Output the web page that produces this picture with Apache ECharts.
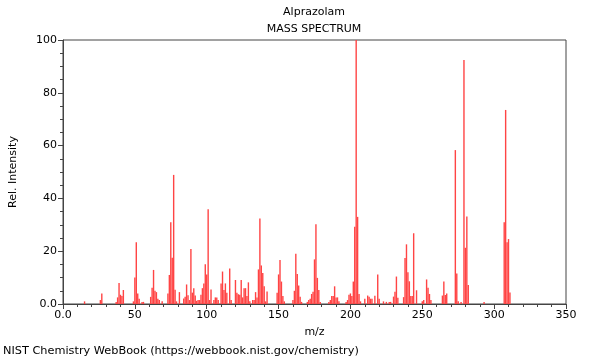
<!DOCTYPE html>
<html>
<head>
<meta charset="utf-8">
<script src="https://cdn.jsdelivr.net/npm/echarts@6/dist/echarts.min.js"></script>
<style>html,body{margin:0;padding:0;background:#fff}#c{width:600px;height:360px}</style>
</head>
<body>
<div id="c"></div>
<script>
// m/z values and relative intensities
const mz = [15,26,27,37,38,39,40,41,42,49,50,51,52,53,55,56,61,62,63,64,65,66,67,69,
  73,74,75,76,77,78,79,81,84,85,86,87,88,89,90,91,92,93,94,95,96,97,98,99,100,101,102,103,
  105,106,107,108,110,111,112,113,114,116,117,120,121,122,123,124,125,126,127,128,129,130,
  132,133,134,135,136,137,138,139,140,141,142,149,150,151,152,153,154,160,161,162,163,164,165,166,
  170,171,172,173,174,175,176,177,178,179,185,186,187,188,189,190,191,192,
  197,198,199,200,201,202,203,204,205,206,207,210,212,213,214,215,217,219,220,223,225,227,228,
  230,231,232,233,237,238,239,240,241,242,243,244,246,250,251,253,254,255,256,
  264,265,266,267,273,274,275,277,279,280,281,282,293,307,308,309,310,311];
const intensity = [1,1.5,4,0.8,2.5,8,3.5,3,5.3,1,10,23.4,4,2,0.8,0.8,2.7,6.2,12.9,5,4.5,2,1.5,1,
  4,11,31,17.5,48.9,5.4,1,4.5,2.1,2.7,7.4,3.3,1.5,20.8,4.3,6,3.2,1.2,1.5,1.5,3.5,6,7.8,15.1,11.2,35.9,1.5,5.5,
  1.5,2.5,2.5,1.5,7.8,12.3,5.3,7.8,4.3,13.4,1.5,9.1,4.3,3.7,3.5,9.1,2.5,6,6,3,8.2,1,
  1.5,1.5,4.5,2.5,13.1,32.4,14.6,11.7,6.7,1,4.7,4.3,11.2,16.7,8.5,3,1,1.5,5,19,11.4,7,2.7,0.8,
  0.8,1.5,2,3.8,4.6,16.9,30.2,9.9,5.3,0.8,0.8,1.5,3,3,6.7,2.5,2.5,1,
  0.8,1.5,3.5,4,3,8.5,29.3,100,33,3.8,1,2,3.2,2.7,2,2,3.1,11.2,2,1,0.8,0.8,0.8,
  2.8,4.6,10.4,2.4,2.6,17.4,22.6,12,8.6,3,3,26.8,5.2,1,1.5,9.3,6.2,3.8,1.5,
  3.2,8.5,3.4,4,58.3,11.6,1,0.8,92.4,21.3,33.1,7.2,0.8,31,73.5,23.4,24.6,4.4];
const xTicks = [0,50,100,150,200,250,300,350];
const yTicks = [0,20,40,60,80,100];

const FONT = 'DejaVu Sans';
const chart = echarts.init(document.getElementById('c'), null, {renderer: 'canvas'});
const data = mz.map((m, i) => [m, intensity[i]]);
chart.setOption({
  animation: false,
  backgroundColor: '#fff',
  textStyle: {fontFamily: FONT},
  grid: {left: 62, right: 34, top: 40, bottom: 56, show: true, borderColor: '#444', borderWidth: 1},
  graphic: [
    {type: 'text', x: 314, y: 7, style: {text: 'Alprazolam', fontFamily: FONT, fontSize: 11, fill: '#000', align: 'center'}},
    {type: 'text', x: 314, y: 24, style: {text: 'MASS SPECTRUM', fontFamily: FONT, fontSize: 11, fill: '#000', align: 'center'}},
    {type: 'text', x: 3, y: 346, style: {text: 'NIST Chemistry WebBook (https://webbook.nist.gov/chemistry)', fontFamily: FONT, fontSize: 11.3, fill: '#000'}}
  ],
  xAxis: {
    type: 'value', min: xTicks[0], max: xTicks[xTicks.length - 1], interval: 50,
    name: 'm/z', nameLocation: 'middle', nameGap: 23,
    nameTextStyle: {fontFamily: FONT, fontSize: 11, color: '#000'},
    axisLine: {lineStyle: {color: '#444'}},
    axisTick: {length: 5, lineStyle: {color: '#444'}},
    minorTick: {show: true, splitNumber: 5, length: 3, lineStyle: {color: '#444'}},
    splitLine: {show: false},
    axisLabel: {fontFamily: FONT, fontSize: 11, color: '#000', margin: 6,
      formatter: v => v === 0 ? '0.0' : String(v)}
  },
  yAxis: {
    type: 'value', min: yTicks[0], max: yTicks[yTicks.length - 1], interval: 20,
    name: 'Rel. Intensity', nameLocation: 'middle', nameGap: 44,
    nameTextStyle: {fontFamily: FONT, fontSize: 11, color: '#000'},
    axisLine: {show: true, lineStyle: {color: '#444'}},
    axisTick: {show: true, length: 5, lineStyle: {color: '#444'}},
    minorTick: {show: true, splitNumber: 4, length: 3, lineStyle: {color: '#444'}},
    splitLine: {show: false},
    axisLabel: {fontFamily: FONT, fontSize: 11, color: '#000', margin: 6,
      formatter: v => v === 0 ? '0.0' : String(v)}
  },
  series: [{
    type: 'bar', data: data, barWidth: 1.4, barGap: '-100%',
    itemStyle: {color: '#ff4444'}, large: false
  }]
});
</script>
</body>
</html>
